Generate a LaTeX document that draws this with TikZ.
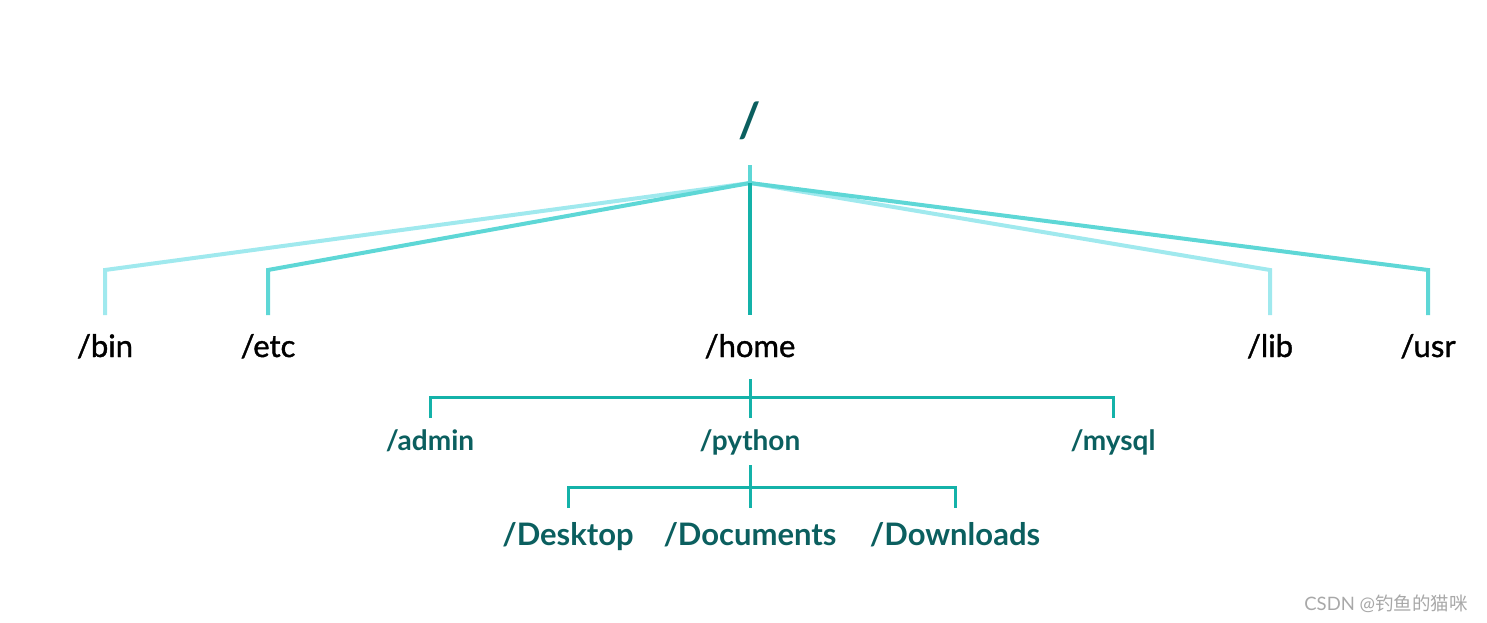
\documentclass[tikz,border=0pt]{standalone}
\usepackage{fontspec}
\setmainfont{Lato}
\newfontfamily\medfont[FakeBold=1.2]{Lato}
\newfontfamily\cjkfont{Noto Sans CJK SC}
\definecolor{rootcol}{HTML}{0B5F5F}
\definecolor{litecol}{HTML}{A0E9EE}
\definecolor{midcol}{HTML}{5ED7D6}
\definecolor{darkcol}{HTML}{14B2A9}
\definecolor{markcol}{HTML}{A8A8A8}

\begin{document}
\begin{tikzpicture}[x=1pt,y=-1pt,
    dirA/.style={font=\medfont\fontsize{31}{32}\selectfont, text=black, anchor=base,
      inner sep=0pt, text height=24pt, text depth=4pt, outer ysep=18pt},
    dirB/.style={font=\bfseries\fontsize{28}{29}\selectfont, text=rootcol, anchor=base,
      inner sep=0pt, text height=22pt, text depth=5pt, outer ysep=10pt},
    dirC/.style={font=\bfseries\fontsize{31}{32}\selectfont, text=rootcol, anchor=base,
      inner sep=0pt, text height=27pt, text depth=0pt, outer ysep=10pt},
    lite/.style={draw=litecol, line width=4pt},
    mid/.style={draw=midcol, line width=4pt},
    dark/.style={draw=darkcol, line width=4pt},
    sub/.style={draw=darkcol, line width=3pt}]
    \useasboundingbox (0,0) rectangle (1487,623);
    \node[font=\bfseries\fontsize{48}{50}\selectfont, text=rootcol, anchor=base,
      inner sep=0pt, text depth=0pt, outer ysep=28pt] (root) at (750,137) {/};
    \coordinate (hub) at (750,183);
    \node[dirA] (bin) at (105,357) {/bin};
    \node[dirA] (etc) at (268,357) {/etc};
    \node[dirA] (home) at (750,357) {/home};
    \node[dirA] (lib) at (1270,357) {/lib};
    \node[dirA] (usr) at (1428,357) {/usr};
    \coordinate (cbin) at (105,270);
    \coordinate (cetc) at (268,270);
    \coordinate (clib) at (1270,270);
    \coordinate (cusr) at (1428,270);
    \draw[lite] (hub) -- (cbin) -- (bin);
    \draw[lite] (hub) -- (clib) -- (lib);
    \draw[mid] (hub) -- (cetc) -- (etc);
    \draw[mid] (hub) -- (cusr) -- (usr);
    \draw[mid] (root) -- (hub);
    \draw[dark] (hub) -- (home);
    % second level
    \node[dirB] (admin) at (430,450) {/admin};
    \node[dirB] (python) at (750,450) {/python};
    \node[dirB] (mysql) at (1113,450) {/mysql};
    \coordinate (j1) at (750,397);
    \draw[sub] (home) -- (python);
    \draw[sub] (admin) |- (j1) -| (mysql);
    % third level
    \node[dirC] (desk) at (568,545) {/Desktop};
    \node[dirC] (docs) at (750,545) {/Documents};
    \node[dirC] (down) at (955,545) {/Downloads};
    \coordinate (j2) at (750,487);
    \draw[sub] (python) -- (docs);
    \draw[sub] (desk) |- (j2) -| (down);
    \node[font=\fontsize{18.5}{19}\selectfont, text=markcol] (mark) at (1386,604) {CSDN @{\cjkfont 钓鱼的猫咪}};
\end{tikzpicture}
\end{document}
